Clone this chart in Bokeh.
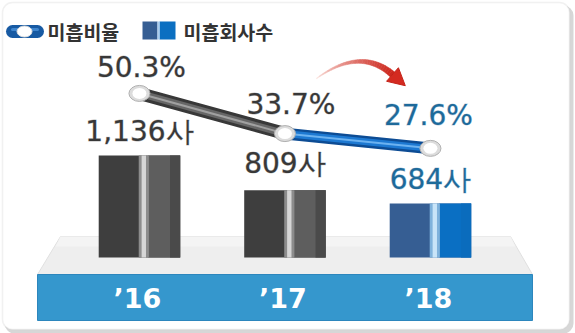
import numpy as np
from bokeh.plotting import figure
from bokeh.models import Range1d, BoxAnnotation
from bokeh.embed import file_html
from bokeh.resources import INLINE
from bokeh.core.properties import value

# ---- data ----
years = ["’16", "’17", "’18"]
counts = [1136, 809, 684]
count_labels = ["1,136사", "809사", "684사"]
ratios = [50.3, 33.7, 27.6]
ratio_labels = ["50.3%", "33.7%", "27.6%"]
legend_labels = ["미흡비율", "미흡회사수"]

# ---- styles ----
W, H = 575, 333
idx = list(range(len(years)))
BAR_W = 0.56
BAR_BASE = 175
left_cols = ["#3e3e3e", "#3e3e3e", "#365e93"]
right_cols = ["#5e5e5e", "#5e5e5e", "#0a6fc3"]
edge_cols = ["#4a4a4a", "#4a4a4a", "#0a6cbd"]
glow_cols = ["#8c8c8c", "#8c8c8c", "#7fb2dc"]
stripe_cols = ["#d6d6d6", "#d6d6d6", "#c8e4f8"]
label_cols = ["#383838", "#383838", "#1d6a9a"]
outline_cols = ["rgba(56,56,56,0.35)", "rgba(56,56,56,0.35)", "rgba(29,106,154,0.35)"]
FONT = value("DejaVu Sans")
KFONT = value("Noto Sans CJK KR")

p = figure(width=W, height=H, output_backend="svg", toolbar_location=None,
           x_range=Range1d(-0.955, 2.997), y_range=Range1d(-540, 2595),
           x_axis_location=None, y_axis_location=None, min_border=0)
p.extra_y_ranges = {"pct": Range1d(-48.9, 88.7), "py": Range1d(H, 0)}
p.extra_x_ranges = {"px": Range1d(0, W)}
p.grid.visible = False
p.outline_line_color = None
p.background_fill_color = "white"
p.border_fill_color = "white"

# frame with shadow
p.add_layout(BoxAnnotation(left=4, right=573, top=5, bottom=333, x_range_name="px", y_range_name="py",
                           fill_color="#bdbdbd", fill_alpha=0.6, line_color=None, border_radius=10,
                           level="underlay"))
p.add_layout(BoxAnnotation(left=2, right=569, top=2, bottom=329, x_range_name="px", y_range_name="py",
                           fill_color="white", fill_alpha=1, line_color="#d0d0d0", line_width=1.5,
                           border_radius=10, level="underlay"))

# platform
p.patch(x=[60, 510, 532, 37], y=[236, 236, 274, 274], x_range_name="px", y_range_name="py",
        fill_color="#eeeeee", line_color="#e0e0e0", line_width=1)
p.patch(x=[60, 510, 515, 55], y=[236, 236, 246, 246], x_range_name="px", y_range_name="py",
        fill_color="#f4f4f4", line_color=None)

# bars
xr = [i + 0.17 for i in idx]
xe = [i + 0.245 for i in idx]
xs = [i + 0.03 for i in idx]
p.vbar(x=idx, width=BAR_W, bottom=BAR_BASE, top=counts, fill_color=left_cols, line_color=None)
p.vbar(x=xr, width=0.22, bottom=BAR_BASE, top=counts, fill_color=right_cols, line_color=None)
p.vbar(x=xe, width=0.07, bottom=BAR_BASE, top=counts, fill_color=edge_cols, line_color=None)
p.vbar(x=xs, width=0.07, bottom=BAR_BASE, top=counts, fill_color=glow_cols, line_color=None)
p.vbar(x=xs, width=0.03, bottom=BAR_BASE, top=counts, fill_color=stripe_cols, line_color=None)

# base
p.quad(left=37, right=532, top=274, bottom=320, x_range_name="px", y_range_name="py",
       fill_color="#3597cd", line_color="#2c86bd", line_width=1)
p.text(x=idx, y=[298] * len(idx), y_range_name="py", text=years, text_align="center",
       text_baseline="middle", x_offset=-2, text_font=FONT, text_font_style="bold", text_font_size="27px",
       text_color="white")

# ratio line
p.line(x=idx[:2], y=ratios[:2], y_range_name="pct", line_width=13, line_color="#383838", line_cap="round")
p.line(x=idx[:2], y=ratios[:2], y_range_name="pct", line_width=7, line_color="#676767")
p.line(x=idx[:2], y=ratios[:2], y_range_name="pct", line_width=2, line_color="#a0a0a0")
p.line(x=idx[1:], y=ratios[1:], y_range_name="pct", line_width=12, line_color="#0d4c94", line_cap="round")
p.line(x=idx[1:], y=ratios[1:], y_range_name="pct", line_width=7, line_color="#1d79d2")
p.line(x=idx[1:], y=ratios[1:], y_range_name="pct", line_width=2, line_color="#6cb2f0")
p.ellipse(x=idx, y=ratios, y_range_name="pct", width=21, height=16, width_units="screen",
          height_units="screen", fill_color="#dcdcdc", line_color="#b0b0b0", line_width=1)
p.ellipse(x=idx, y=ratios, y_range_name="pct", width=14, height=11, width_units="screen",
          height_units="screen", fill_color="white", line_color=None)

# labels
p.text(x=idx, y=ratios, y_range_name="pct", text=ratio_labels, x_offset=[2, 6, -2],
       y_offset=[-26, -29, -33],
       text_align="center", text_baseline="alphabetic", text_font=FONT, text_font_size="28px",
       text_color=label_cols, text_outline_color=outline_cols)
p.text(x=idx, y=counts, text=count_labels, y_offset=[-24, -27, -24], text_align="center",
       text_baseline="alphabetic", text_font=FONT, text_font_size="28px", text_color=label_cols,
       text_outline_color=outline_cols)

# red curved arrow
t = np.linspace(0, 1, 31)
P0 = np.array([316.0, 78.0]); C = np.array([360.0, 46.0]); P1 = np.array([392.0, 74.0])
pts = ((1 - t) ** 2)[:, None] * P0 + (2 * (1 - t) * t)[:, None] * C + (t ** 2)[:, None] * P1
der = (2 * (1 - t))[:, None] * (C - P0) + (2 * t)[:, None] * (P1 - C)
nrm = np.stack([-der[:, 1], der[:, 0]], 1)
nrm /= np.linalg.norm(nrm, axis=1)[:, None]
th = 0.3 + 3.0 * t
up = pts + nrm * th[:, None]
lo = pts - nrm * th[:, None]
c0 = np.array([250, 225, 220]); c1 = np.array([205, 40, 30])
pxs, pys, pcs = [], [], []
for k in range(len(t) - 1):
    pxs.append([up[k, 0], up[k + 1, 0], lo[k + 1, 0], lo[k, 0]])
    pys.append([up[k, 1], up[k + 1, 1], lo[k + 1, 1], lo[k, 1]])
    c = (c0 + (c1 - c0) * (k / (len(t) - 2)) ** 0.7).astype(int)
    pcs.append("#%02x%02x%02x" % tuple(c))
p.patches(xs=pxs, ys=pys, x_range_name="px", y_range_name="py", fill_color=pcs, line_color=pcs, line_width=0.5)
d = der[-1] / np.linalg.norm(der[-1])
n = nrm[-1]
tip = P1 + d * 17
b1 = P1 + n * 9
b2 = P1 - n * 9
p.patch(x=[b1[0], tip[0], b2[0]], y=[b1[1], tip[1], b2[1]], x_range_name="px", y_range_name="py",
        fill_color="#d42a20", line_color="#c42218", line_width=1)

# legend
p.line(x=[12, 37], y=[31, 31], x_range_name="px", y_range_name="py", line_width=13,
       line_color="#175aa3", line_cap="round")
p.line(x=[12, 37], y=[29, 29], x_range_name="px", y_range_name="py", line_width=3,
       line_color="#3f86cf", line_cap="round")
p.ellipse(x=[24], y=[31], x_range_name="px", y_range_name="py", width=15, height=11,
          width_units="screen", height_units="screen", fill_color="white", line_color="#dddddd")
p.quad(left=[142, 159], right=[157, 175], top=[21, 21], bottom=[39, 39], x_range_name="px", y_range_name="py",
       fill_color=["#365e93", "#0b6fc1"], line_color=None)
p.quad(left=[157], right=[159], top=[21], bottom=[39], x_range_name="px", y_range_name="py",
       fill_color="#a9cdef", line_color=None)
p.text(x=[47, 183], y=[31, 31], x_range_name="px", y_range_name="py", text=legend_labels,
       text_baseline="middle", text_align="left", text_font=KFONT, text_font_style="bold",
       text_font_size="19.5px", text_color="#333333")

open("out.html", "w").write(file_html(p, INLINE))
